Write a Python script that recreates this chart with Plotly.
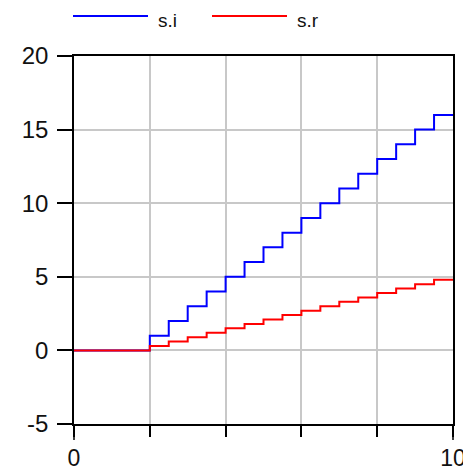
import plotly.graph_objects as go

x_vals = [0, 2, 2.5, 3, 3.5, 4, 4.5, 5, 5.5, 6, 6.5, 7, 7.5, 8, 8.5, 9, 9.5, 10]
s_i = [0, 1, 2, 3, 4, 5, 6, 7, 8, 9, 10, 11, 12, 13, 14, 15, 16, 16]
s_r = [0, 0.3, 0.6, 0.9, 1.2, 1.5, 1.8, 2.1, 2.4, 2.7, 3.0, 3.3, 3.6, 3.9, 4.2, 4.5, 4.8, 4.8]
x_ticks = [0, 2, 4, 6, 8, 10]
x_ticktext = ["0", "", "", "", "", "10"]
y_ticks = [-5, 0, 5, 10, 15, 20]
y_ticktext = ["-5", "0", "5", "10", "15", "20"]
series_names = ["s.i", "s.r"]
series_colors = ["#0000ff", "#ff0000"]

OFF = 8  # page body margin
W, H = 463, 464
L, R, T, B = 66, 18, 48, 48
pw, ph = W - L - R, H - T - B


def px_x(p):
    return (p - OFF - L) / pw


def px_y(p):
    return (OFF + H - B - p) / ph


fig = go.Figure()
for name, ys, col in zip(series_names, [s_i, s_r], series_colors):
    fig.add_trace(go.Scatter(x=x_vals, y=ys, mode="lines", name=name, showlegend=False,
                             line=dict(color=col, width=2, shape="hv")))

yfont = dict(family="Liberation Sans, Arial, sans-serif", size=24, color="#111111")
xfont = dict(family="Liberation Sans, Arial, sans-serif", size=23, color="#111111")

shapes = []
annotations = []
leg_x = [(73, 148, 156), (212, 287, 295)]
for (x0, x1, xt), name, col in zip(leg_x, series_names, series_colors):
    shapes.append(dict(type="line", xref="paper", yref="paper",
                       x0=px_x(x0), x1=px_x(x1), y0=px_y(16), y1=px_y(16),
                       line=dict(color=col, width=2)))
    annotations.append(dict(text=name, xref="paper", yref="paper", x=px_x(xt), y=px_y(20),
                            xanchor="left", yanchor="middle", showarrow=False,
                            font=dict(family="Liberation Sans, Arial, sans-serif", size=19,
                                      color="#111111")))
for xp in [0, 1]:
    shapes.append(dict(type="line", xref="paper", yref="paper", x0=xp, x1=xp,
                       y0=0, y1=-16 / ph, line=dict(color="#000", width=1.5)))

fig.update_layout(
    width=W, height=H,
    margin=dict(l=L, r=R, t=T, b=B),
    paper_bgcolor="white", plot_bgcolor="white",
    showlegend=False,
    shapes=shapes, annotations=annotations,
    xaxis=dict(range=[0, 10], tickvals=x_ticks, ticktext=x_ticktext, automargin=False,
               showgrid=True, gridcolor="#c8c8c8", gridwidth=1.5,
               showline=True, linecolor="#000", linewidth=1.5, mirror=True,
               ticks="outside", ticklen=11, tickwidth=1.5, tickcolor="#000",
               tickfont=xfont, zeroline=False, ticklabelstandoff=2),
    yaxis=dict(range=[-5, 20], tickvals=y_ticks, ticktext=y_ticktext, automargin=False,
               showgrid=True, gridcolor="#c8c8c8", gridwidth=1.5,
               showline=True, linecolor="#000", linewidth=1.5, mirror=True,
               ticks="outside", ticklen=15, tickwidth=1.5, tickcolor="#000",
               tickfont=yfont, zeroline=False, ticklabelstandoff=4),
)
fig.write_html("out.html")
